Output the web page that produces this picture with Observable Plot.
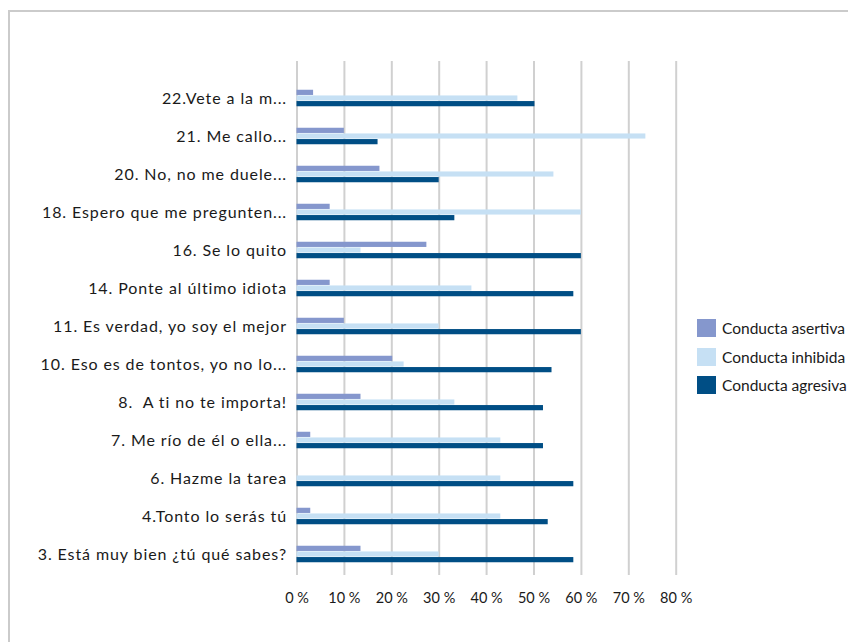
<!DOCTYPE html>
<html>
<head>
<meta charset="utf-8">
<script src="https://cdn.jsdelivr.net/npm/d3@7"></script>
<script src="https://cdn.jsdelivr.net/npm/@observablehq/plot@0.6"></script>
<style>
  html, body { margin: 0; padding: 0; background: #fff; width: 848px; height: 642px; overflow: hidden; }
  #frame { position: absolute; left: 8px; top: 10px; width: 900px; height: 700px; border-left: 2px solid #cbcbcb; border-top: 2px solid #cbcbcb; box-sizing: border-box; }
  #chart { position: absolute; left: 0; top: 0; }
  #legend { position: absolute; left: 697px; top: 314px; font-family: Lato, "Open Sans", sans-serif; font-size: 15.5px; color: #1a1a1a; }
  .row { display: flex; align-items: center; height: 28.5px; }
  .sw { width: 19px; height: 18px; margin-right: 6px; flex: none; }
  .ylab text { letter-spacing: 0.9px; }
</style>
</head>
<body>
<div id="frame"></div>
<div id="chart"></div>
<div id="legend"></div>
<script>
const categories = [
  "22.Vete a la m...",
  "21. Me callo...",
  "20. No, no me duele...",
  "18. Espero que me pregunten...",
  "16. Se lo quito",
  "14. Ponte al último idiota",
  "11. Es verdad, yo soy el mejor",
  "10. Eso es de tontos, yo no lo...",
  "8.  A ti no te importa!",
  "7. Me río de él o ella...",
  "6. Hazme la tarea",
  "4.Tonto lo serás tú",
  "3. Está muy bien ¿tú qué sabes?"
];
const seriesNames = ["Conducta asertiva", "Conducta inhibida", "Conducta agresiva"];
const asertiva = [3.5, 10, 17.5, 7, 27.4, 7, 10, 20.2, 13.5, 2.9, 0, 2.9, 13.5];
const inhibida = [46.6, 73.6, 54.2, 60, 13.5, 36.9, 30, 22.6, 33.3, 43, 43, 43, 30];
const agresiva = [50.2, 17.1, 30, 33.3, 60, 58.4, 60, 53.8, 52, 52, 58.4, 53, 58.4];
const xTicks = [0, 10, 20, 30, 40, 50, 60, 70, 80];

const colors = ["#8597CD", "#C6E0F4", "#004E85"];
const seriesValues = [asertiva, inhibida, agresiva];
const insets = [[10.75, 22.05], [16.45, 16.45], [22.05, 10.75]];

const W = 848, H = 620;
const marginLeft = 296.5, marginRight = 172.3, marginTop = 61, marginBottom = H - 575;

const barMarks = seriesValues.map((vals, s) =>
  Plot.barX(categories, {
    x1: 0,
    x2: (d, i) => vals[i],
    y: d => d,
    fill: colors[s],
    insetTop: insets[s][0],
    insetBottom: insets[s][1]
  })
);

const chart = Plot.plot({
  width: W,
  height: H,
  marginLeft, marginRight, marginTop, marginBottom,
  style: { fontFamily: "Lato, 'Open Sans', sans-serif", fontSize: "14px", color: "#1a1a1a", background: "transparent" },
  x: { domain: [0, 80], ticks: xTicks, tickFormat: d => d + " %", label: null },
  y: { domain: categories, range: [75.75, 576], padding: 0, label: null },
  marks: [
    Plot.ruleX(xTicks, { stroke: "#d0d0d0", strokeWidth: 2 }),
    ...barMarks,
    Plot.axisX({ ticks: xTicks, tickFormat: d => d + " %", tickSize: 0, tickPadding: 17, label: null, fontSize: 14.5 }),
    Plot.axisY({ tickSize: 0, tickPadding: 10, label: null, fontSize: 16, className: "ylab" })
  ]
});
document.getElementById("chart").appendChild(chart);

const legend = document.getElementById("legend");
seriesNames.forEach((name, i) => {
  const row = document.createElement("div");
  row.className = "row";
  const sw = document.createElement("div");
  sw.className = "sw";
  sw.style.background = colors[i];
  const t = document.createElement("span");
  t.textContent = name;
  row.appendChild(sw);
  row.appendChild(t);
  legend.appendChild(row);
});
</script>
</body>
</html>
